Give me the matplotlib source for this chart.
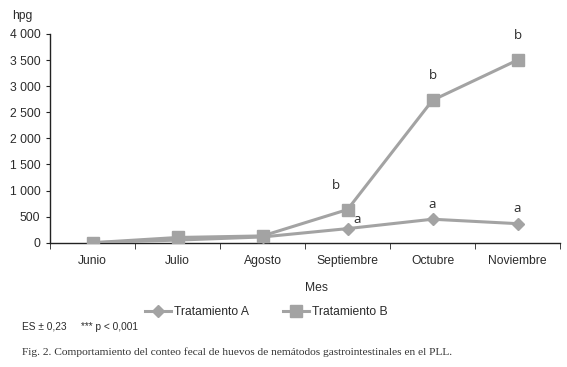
import matplotlib
matplotlib.use("Agg")
import matplotlib.pyplot as plt
from matplotlib.ticker import FuncFormatter

months = ["Junio", "Julio", "Agosto", "Septiembre", "Octubre", "Noviembre"]
trat_a = [0, 50, 110, 270, 450, 365]
trat_b = [0, 100, 130, 635, 2730, 3500]
letters_a = ["", "", "", "a", "a", "a"]
letters_b = ["", "", "", "b", "b", "b"]
yticks = [0, 500, 1000, 1500, 2000, 2500, 3000, 3500, 4000]

plt.rcParams["font.family"] = ["Liberation Sans", "DejaVu Sans"]

W, H = 567, 367
fig = plt.figure(figsize=(W / 100, H / 100), dpi=100)
ax = fig.add_axes([50 / W, 1 - 242.7 / H, 510 / W, (242.7 - 34) / H])

line_col = "#a3a3a3"
txt_col = "#2b2b2b"
x = list(range(len(months)))
ax.plot(x, trat_a, color=line_col, lw=2.2, marker="D", ms=6.5, mec=line_col,
        mfc=line_col, label="Tratamiento A", zorder=3)
ax.plot(x, trat_b, color=line_col, lw=2.2, marker="s", ms=8.5, mec=line_col,
        mfc=line_col, label="Tratamiento B", zorder=3)

lbl_kw = dict(textcoords="offset points", ha="center", va="bottom",
              fontsize=9.5, color=txt_col, family=["Open Sans", "DejaVu Sans"],
              fontweight="medium")
for i, (la, lb) in enumerate(zip(letters_a, letters_b)):
    if lb:
        ax.annotate(lb, (x[i], trat_b[i]), xytext=(-8 if i == 3 else 0, 13), **lbl_kw)
    if la:
        if i == 3:
            ax.annotate(la, (x[i], trat_a[i]), xytext=(7, 2), **lbl_kw)
        else:
            ax.annotate(la, (x[i], trat_a[i]), xytext=(0, 6), **lbl_kw)

ax.set_xlim(-0.5, 5.5)
ax.set_ylim(0, 4000)
ax.set_yticks(yticks)
ax.yaxis.set_major_formatter(FuncFormatter(lambda v, p: f"{int(v):,}".replace(",", " ")))
ax.set_xticks(x)
ax.set_xticklabels(months)
ax.set_xticks([i + 0.5 for i in range(-1, 6)], minor=True)
ax.tick_params(axis="x", which="major", length=0, pad=9, labelsize=8.7, colors=txt_col)
ax.tick_params(axis="x", which="minor", length=4, direction="out", color="#222222")
ax.tick_params(axis="y", length=3, direction="out", pad=4, labelsize=8.7, colors=txt_col, color="#222222")
for s in ["top", "right"]:
    ax.spines[s].set_visible(False)
for s in ["left", "bottom"]:
    ax.spines[s].set_color("#222222")
    ax.spines[s].set_linewidth(1.0)

fig.text(12 / W, 1 - 16 / H, "hpg", fontsize=8.7, color=txt_col, ha="left", va="center")
fig.text(317 / W, 1 - 288 / H, "Mes", fontsize=8.7, color=txt_col, ha="center", va="center")

handles, labels = ax.get_legend_handles_labels()
fig.legend(handles, labels, loc="center", bbox_to_anchor=(266 / W, 1 - 312 / H),
           ncol=2, frameon=False, fontsize=8.7, labelcolor=txt_col,
           handlelength=2.2, columnspacing=2.8, handletextpad=0.2)

fig.text(22 / W, 1 - 327 / H, "ES ± 0,23     *** p < 0,001", fontsize=7.3,
         color=txt_col, ha="left", va="center")
fig.text(22 / W, 1 - 352 / H,
         "Fig. 2. Comportamiento del conteo fecal de huevos de nemátodos gastrointestinales en el PLL.",
         fontsize=8.2, family="Liberation Serif", color="#333333", ha="left", va="center")

fig.savefig("out.png", dpi=100)
